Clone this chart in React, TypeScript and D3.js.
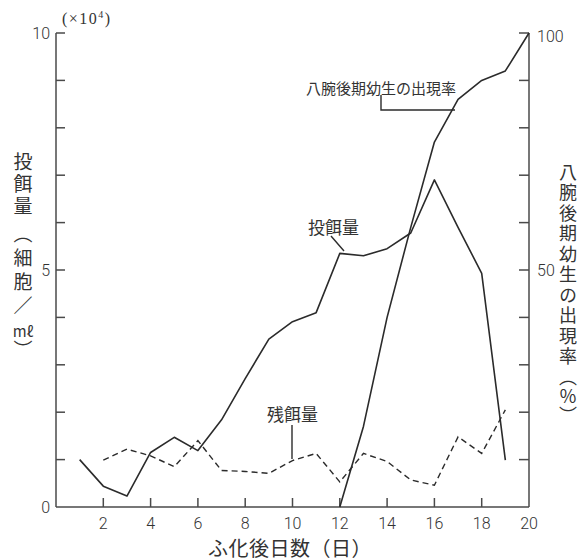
import React from "react";
import * as d3 from "d3";

// 投餌量 (×10^4 cells/mℓ), days 1..19
const feedDays = [1, 2, 3, 4, 5, 6, 7, 8, 9, 10, 11, 12, 13, 14, 15, 16, 17, 18, 19];
const feedValues = [1.0, 0.44, 0.23, 1.15, 1.47, 1.19, 1.84, 2.71, 3.54, 3.91, 4.1, 5.35, 5.3, 5.45, 5.78, 6.9, 5.9, 4.93, 0.99];

// 残餌量 (×10^4 cells/mℓ), days 2..19
const residualDays = [2, 3, 4, 5, 6, 7, 8, 9, 10, 11, 12, 13, 14, 15, 16, 17, 18, 19];
const residualValues = [0.99, 1.22, 1.08, 0.85, 1.4, 0.77, 0.75, 0.71, 0.98, 1.13, 0.53, 1.13, 0.96, 0.57, 0.46, 1.48, 1.13, 2.05];

// 八腕後期幼生の出現率 (%), days 12..20
const rateDays = [12, 13, 14, 15, 16, 17, 18, 19, 20];
const rateValues = [0, 17, 40, 59, 77, 86, 90, 92, 100];

const xTicks = [2, 4, 6, 8, 10, 12, 14, 16, 18, 20];
const leftTicks = [1, 2, 3, 4, 5, 6, 7, 8, 9, 10];
const leftLabels = [0, 5, 10];
const rightTicks = [10, 20, 30, 40, 50, 60, 70, 80, 90, 100];
const rightLabels = [50, 100];

const W = 581;
const H = 560;
const INK = "#2b2b2b";
const AXIS = "#4a4a4a";
const NUM_FONT = "Roboto, 'Liberation Sans', sans-serif";
const CJK = "'Noto Sans CJK JP', sans-serif";

const vertical: React.CSSProperties = { writingMode: "vertical-rl" as any };

export default function App() {
  const x = d3.scaleLinear().domain([0, 20]).range([56, 529]);
  const yL = d3.scaleLinear().domain([0, 10]).range([507, 33]);
  const yR = d3.scaleLinear().domain([0, 100]).range([507, 33]);

  const feedLine = d3
    .line<number>()
    .x((_, i) => x(feedDays[i]))
    .y((d) => yL(d));
  const resLine = d3
    .line<number>()
    .x((_, i) => x(residualDays[i]))
    .y((d) => yL(d));
  const rateLine = d3
    .line<number>()
    .x((_, i) => x(rateDays[i]))
    .y((d) => yR(d));

  return (
    <svg
      width={W}
      height={H}
      style={{ position: "absolute", left: 0, top: 0, background: "#fff" }}
    >
      {/* axes */}
      <g stroke={AXIS} strokeWidth={1.5} fill="none">
        <line x1={x(0)} y1={yL(0)} x2={x(20)} y2={yL(0)} />
        <line x1={x(0)} y1={yL(0)} x2={x(0)} y2={yL(10)} />
        <line x1={x(20)} y1={yL(0)} x2={x(20)} y2={yR(100)} />
        {xTicks.slice(0, -1).map((t) => (
          <line key={"xt" + t} x1={x(t)} x2={x(t)} y1={yL(0)} y2={yL(0) - 9} />
        ))}
        {leftTicks.map((t) => (
          <line key={"lt" + t} x1={x(0)} x2={x(0) + 9} y1={yL(t)} y2={yL(t)} />
        ))}
        {rightTicks.map((t) => (
          <line key={"rt" + t} x1={x(20)} x2={x(20) - 10} y1={yR(t)} y2={yR(t)} />
        ))}
      </g>

      {/* tick labels */}
      <g fill="#333" fontFamily={NUM_FONT} fontWeight={300} fontSize={16}>
        {xTicks.map((t) => (
          <text key={"xl" + t} x={x(t)} y={yL(0) + 16} textAnchor="middle" dominantBaseline="central">
            {t}
          </text>
        ))}
        {leftLabels.map((t) => (
          <text key={"ll" + t} x={x(0) - 6} y={yL(t)} textAnchor="end" dominantBaseline="central">
            {t}
          </text>
        ))}
        {rightLabels.map((t) => (
          <text key={"rl" + t} x={x(20) + 8} y={yR(t) + (t === 100 ? 3 : 0)} textAnchor="start" dominantBaseline="central">
            {t}
          </text>
        ))}
      </g>

      {/* unit */}
      <text x={62} y={24} fontFamily="'Liberation Serif', serif" fontSize={16} letterSpacing={1.5} fill="#333">
        (×10<tspan dy={-6} fontSize={10}>4</tspan>
        <tspan dy={6}>)</tspan>
      </text>

      {/* data lines */}
      <path d={feedLine(feedValues) || ""} fill="none" stroke={INK} strokeWidth={1.6} strokeLinejoin="round" />
      <path d={rateLine(rateValues) || ""} fill="none" stroke={INK} strokeWidth={1.6} strokeLinejoin="round" />
      <path
        d={resLine(residualValues) || ""}
        fill="none"
        stroke={INK}
        strokeWidth={1.4}
        strokeDasharray="6,4"
      />

      {/* annotations */}
      <g fontFamily={CJK} fill="#333">
        <text x={306} y={87} fontSize={15} dominantBaseline="central">八腕後期幼生の出現率</text>
        <polyline points="381,95 381,110 455,110" fill="none" stroke={INK} strokeWidth={1.4} />
        <text x={308} y={226} fontSize={17} dominantBaseline="central">投餌量</text>
        <line x1={331} y1={236} x2={344} y2={251} stroke={INK} strokeWidth={1.4} />
        <text x={267} y={413} fontSize={17} dominantBaseline="central">残餌量</text>
        <line x1={292} y1={425} x2={292} y2={459} stroke={INK} strokeWidth={1.4} />
      </g>

      {/* axis titles */}
      <g fontFamily={CJK} fill="#333">
        <text x={23} y={152} fontSize={19} letterSpacing={3} style={vertical}>投餌量</text>
        <text x={23} y={224} fontSize={19} letterSpacing={5} style={vertical}>（細胞／</text>
        <text x={23} y={330} fontSize={15} textAnchor="middle" dominantBaseline="central">mℓ</text>
        <text x={23} y={340} fontSize={19} style={vertical}>）</text>
        <text x={568} y={163} fontSize={18} letterSpacing={2.5} style={vertical}>八腕後期幼生の出現率</text>
        <text x={568} y={368} fontSize={18} letterSpacing={1} style={vertical}>（％）</text>
        <text x={208} y={547} fontSize={20} letterSpacing={0.5} dominantBaseline="central">ふ化後日数（日）</text>
      </g>
    </svg>
  );
}
